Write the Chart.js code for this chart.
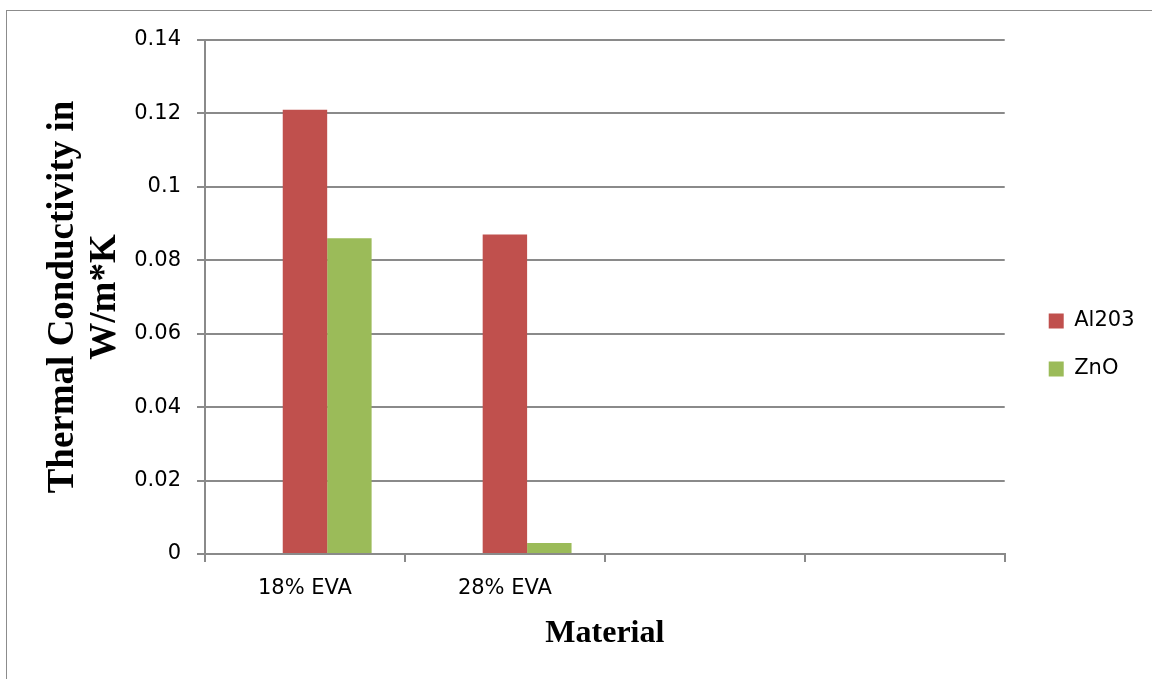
<!DOCTYPE html>
<html>
<head>
<meta charset="utf-8">
<script src="https://cdn.jsdelivr.net/npm/chart.js@4"></script>
<style>
  html, body { margin: 0; padding: 0; background: #ffffff; overflow: hidden; }
  #wrap { position: relative; width: 1152px; height: 679px; }
  #frame { position: absolute; left: 6px; top: 10px; width: 1300px; height: 900px;
           border: 1px solid #8c8c8c; pointer-events: none; }
  canvas { position: absolute; left: 0; top: 0; }
</style>
</head>
<body>
<div id="wrap">
  <canvas id="chart" width="1152" height="679"></canvas>
  <div id="frame"></div>
</div>
<script>
// Categories along the x axis (the last two slots are unlabeled)
const categories = ['18% EVA', '28% EVA', '', ''];

// Series: an empty leading series keeps the bar slots, then the two fillers
const seriesNames = ['', 'Al203', 'ZnO'];
const emptySeries = [null, null, null, null];
const al203Values = [0.121, 0.087, null, null];
const znoValues = [0.086, 0.003, null, null];

// Y axis tick labels
const yTickLabels = ['0', '0.02', '0.04', '0.06', '0.08', '0.1', '0.12', '0.14'];

const seriesColors = ['rgba(0,0,0,0)', '#C0504D', '#9BBB59'];
const seriesData = [emptySeries, al203Values, znoValues];

const gridColor = '#8a8a8a';
const tickFont = { family: 'DejaVu Sans', size: 21 };

// Leaves a little space between the plot and the legend
const legendGap = {
  id: 'legendGap',
  afterLayout(chart) {
    const lg = chart.legend;
    if (lg) { lg.left += 17; lg.right += 17; }
  }
};

new Chart(document.getElementById('chart'), {
  type: 'bar',
  data: {
    labels: categories,
    datasets: seriesNames.map((name, i) => ({
      label: name,
      data: seriesData[i],
      backgroundColor: seriesColors[i],
      borderWidth: 0,
      categoryPercentage: 0.6667,
      barPercentage: 1.0
    }))
  },
  options: {
    responsive: false,
    animation: false,
    devicePixelRatio: 1,
    layout: { padding: { top: 40, left: 0, right: 24.5, bottom: 29 } },
    plugins: {
      tooltip: { enabled: false },
      legend: {
        position: 'right',
        labels: {
          filter: (item) => item.text !== '',
          boxWidth: 15,
          boxHeight: 15,
          padding: 27,
          color: '#000000',
          font: { family: 'DejaVu Sans', size: 21 }
        }
      }
    },
    scales: {
      x: {
        afterFit: (scale) => { scale.height = 96; },
        grid: {
          display: true,
          drawOnChartArea: false,
          drawTicks: true,
          tickLength: 8,
          offset: true,
          color: gridColor,
          lineWidth: 2
        },
        border: { display: true, color: gridColor, width: 2 },
        ticks: { color: '#000000', font: tickFont, padding: 14, maxRotation: 0, autoSkip: false },
        title: {
          display: true,
          text: 'Material',
          color: '#000000',
          font: { family: 'Liberation Serif', size: 32, weight: 'bold', lineHeight: 1.0 },
          padding: { top: 0, bottom: 0 }
        }
      },
      y: {
        min: 0,
        max: 0.14,
        afterFit: (scale) => { scale.width = 205; },
        ticks: {
          stepSize: 0.02,
          color: '#000000',
          font: tickFont,
          padding: 16,
          callback: (value, index) => yTickLabels[index]
        },
        grid: {
          color: gridColor,
          lineWidth: 2,
          drawTicks: true,
          tickLength: 8
        },
        border: { display: true, color: gridColor, width: 2 },
        title: {
          display: true,
          text: ['Thermal Conductivity in', 'W/m*K'],
          color: '#000000',
          font: { family: 'Liberation Serif', size: 37, weight: 'bold', lineHeight: 1.15 },
          padding: { top: 42, bottom: 0 }
        }
      }
    }
  },
  plugins: [legendGap]
});
</script>
</body>
</html>
